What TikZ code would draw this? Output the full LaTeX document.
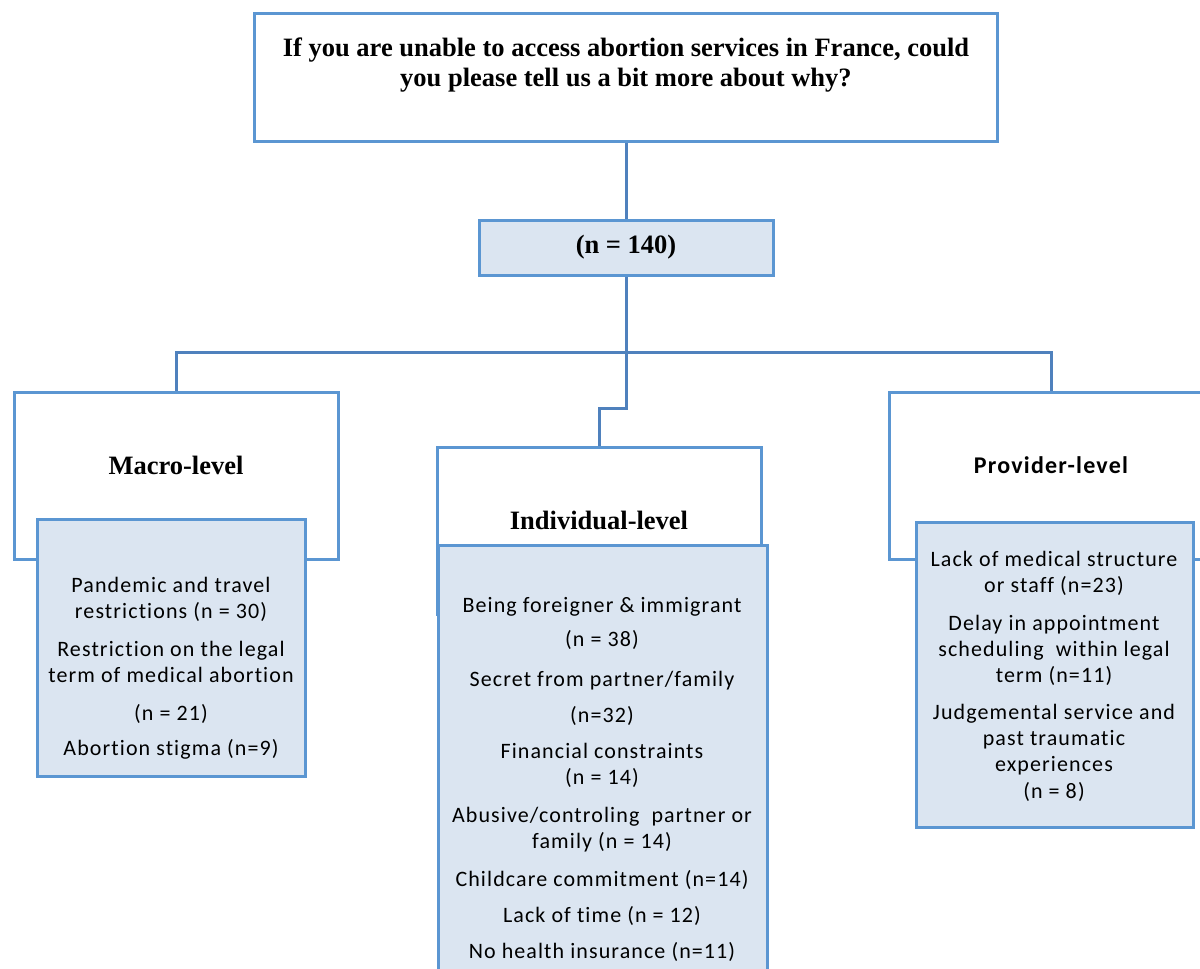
\documentclass[tikz,border=0pt]{standalone}
\usepackage{fontspec}
\setmainfont{Liberation Serif}
\newfontfamily\calibri[LetterSpace=5, Ligatures={NoCommon}]{Carlito}
\definecolor{boxblue}{RGB}{91,150,210}
\definecolor{linkblue}{RGB}{79,129,189}
\definecolor{listfill}{RGB}{219,229,241}

\begin{document}
\begin{tikzpicture}[x=1pt, y=-1pt,
		box/.style={draw=boxblue, line width=3pt, fill=white, minimum width=324pt, minimum height=167pt, inner sep=0pt},
		list/.style={draw=boxblue, line width=3pt, fill=listfill, inner sep=0pt},
		count/.style={list, minimum width=294pt, minimum height=55pt, font=\bfseries\fontsize{26.5}{30}\selectfont},
		head/.style={font=\bfseries\fontsize{26.5}{30}\selectfont, inner sep=0pt, align=center},
		item/.style={font=\calibri\fontsize{22}{26}\selectfont, inner sep=0pt, align=center},
		link/.style={draw=linkblue, line width=3pt},
	]
		\path[use as bounding box, clip] (0,0) rectangle (1200,969);

		\node (q) [box, minimum width=743pt, minimum height=128pt] at (626,77) {};
		\node (qtext) [head] at (626,65) {If you are unable to access abortion services in France, could\\you please tell us a bit more about why?};
		\node (total) [count] at (626,247.5) {(n = 140)};

		\node (macro) [box] at (176,475.5) {};
		\node (indiv) [box] at (599,531) {};
		\node (prov) [box] at (1051,475.5) {};
		\coordinate (bus) at (626,352);

		\draw[link] (q) -- (total);
		\draw[link] (total) -- (bus);
		\draw[link] (macro.north) -- (macro.north |- bus) -- (prov.north |- bus) -- (prov.north);
		\draw[link] (bus) -- ++(0,56) -| (indiv.north);

		\node (macrot) [head] at (176,465) {Macro-level};
		\node (indivt) [head] at (599,520) {Individual-level};
		\node (provt) [item, font=\calibri\bfseries\fontsize{24}{28}\selectfont] at (1051,465) {Provider-level};

		\node (macrolist) [list, minimum width=268pt, minimum height=257pt] at (171,647.5) {};
		\node (indivlist) [list, minimum width=329pt, minimum height=440pt] at (602.5,765) {};
		\node (provlist) [list, minimum width=277pt, minimum height=305pt] at (1054.5,674.5) {};

		\node (macroitems) [item, anchor=north] at (171,577) {Pandemic and travel\\restrictions (n = 30)\\[12pt]Restriction on the legal\\term of medical abortion\\[12pt](n = 21)\\[9pt]Abortion stigma (n=9)};
		\node (indivitems) [item, anchor=north] at (602,597) {Being foreigner \& immigrant\\[8pt](n = 38)\\[14pt]Secret from partner/family\\[10pt](n=32)\\[10pt]Financial constraints\\(n = 14)\\[12pt]Abusive/controling~ partner or\\family (n = 14)\\[12pt]Childcare commitment (n=14)\\[10pt]Lack of time (n = 12)\\[10pt]No health insurance (n=11)};
		\node (provitems) [item, anchor=north] at (1054,551) {Lack of medical structure\\or staff (n=23)\\[12pt]Delay in appointment\\scheduling~ within legal\\term (n=11)\\[11pt]Judgemental service and\\past traumatic\\experiences\\[1pt](n = 8)};
	\end{tikzpicture}
\end{document}
